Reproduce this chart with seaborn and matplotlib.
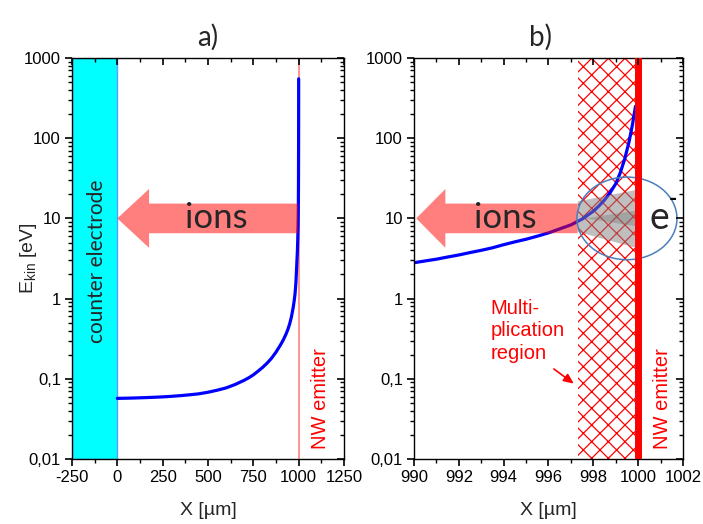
import matplotlib
matplotlib.use("Agg")
import matplotlib.pyplot as plt
import seaborn as sns
import numpy as np
from matplotlib.patches import Polygon, Ellipse
from matplotlib.ticker import FixedLocator, FixedFormatter, LogLocator, NullFormatter, MultipleLocator

# ---------------- data ----------------
# panel a: kinetic energy of ions vs position (full gap)
xa = [0, 50, 100, 150, 200, 250, 300, 350, 400, 450, 500, 550, 600, 650,
      700, 725, 750, 775, 800, 825, 850, 875, 900, 915, 930, 940, 950, 960,
      970, 975, 980, 985, 990, 993, 995, 997, 998, 999, 999.5, 999.8, 999.9,
      999.95, 999.98]
ea = [0.057, 0.0573, 0.0577, 0.0582, 0.0588, 0.0595, 0.0605, 0.0617, 0.0632,
      0.065, 0.068, 0.072, 0.077, 0.085, 0.096, 0.103, 0.112, 0.124, 0.138,
      0.156, 0.18, 0.215, 0.265, 0.305, 0.36, 0.41, 0.48, 0.59, 0.78, 0.93,
      1.15, 1.6, 2.8, 3.9, 5.5, 8.3, 12.3, 27, 70, 180, 260, 400, 550]
# panel b: zoom near the emitter
xb = [990, 990.5, 991, 991.5, 992, 992.5, 993, 993.5, 994, 994.5, 995, 995.5,
      996, 996.5, 997, 997.5, 998, 998.25, 998.5, 998.75, 999, 999.2, 999.4,
      999.6, 999.75, 999.88]
eb = [2.8, 2.95, 3.1, 3.3, 3.5, 3.75, 4.0, 4.3, 4.7, 5.1, 5.5, 6.0, 6.6, 7.4,
      8.3, 9.8, 12.3, 14.3, 17, 21, 27, 37, 55, 92, 150, 250]

ytick_vals = [0.01, 0.1, 1, 10, 100, 1000]
ytick_labels = ["0,01", "0,1", "1", "10", "100", "1000"]
xa_ticks = [-250, 0, 250, 500, 750, 1000, 1250]
xa_labels = ["-250", "0", "250", "500", "750", "1000", "1250"]
xb_ticks = [990, 992, 994, 996, 998, 1000, 1002]
xb_labels = ["990", "992", "994", "996", "998", "1000", "1002"]

electrode_span = (-250, 0)
emitter_x = 1000
mult_span = (997.3, 999.85)

# ---------------- style ----------------
sns.set_theme(style="ticks")
plt.rcParams["font.family"] = ["Liberation Sans", "DejaVu Sans"]
plt.rcParams["mathtext.default"] = "regular"
plt.rcParams["axes.unicode_minus"] = False
plt.rcParams["hatch.linewidth"] = 0.9
plt.rcParams["axes.linewidth"] = 1.0
plt.rcParams["axes.edgecolor"] = "black"
for a in ("xtick", "ytick"):
    plt.rcParams[f"{a}.color"] = "black"
    plt.rcParams[f"{a}.major.size"] = 5
    plt.rcParams[f"{a}.minor.size"] = 3
    plt.rcParams[f"{a}.major.width"] = 1.2
    plt.rcParams[f"{a}.minor.width"] = 1.0
    plt.rcParams[f"{a}.labelsize"] = 12
plt.rcParams["xtick.minor.visible"] = True
plt.rcParams["ytick.minor.visible"] = True

CAL = ["Lato", "DejaVu Sans"]
ARIAL = ["Liberation Sans", "DejaVu Sans"]

fig = plt.figure(figsize=(7.03, 5.24), dpi=100)
W, H = 703, 524
ax_a = fig.add_axes([72 / W, (H - 459) / H, (344 - 72) / W, (459 - 58) / H])
ax_b = fig.add_axes([414 / W, (H - 459) / H, (683 - 414) / W, (459 - 58) / H])


def set_locators(ax, xticks, xminor):
    ax.set_yscale("log")
    ax.xaxis.set_major_locator(FixedLocator(xticks))
    ax.xaxis.set_minor_locator(MultipleLocator(xminor))
    ax.yaxis.set_major_locator(FixedLocator(ytick_vals))
    ax.yaxis.set_minor_locator(LogLocator(base=10, subs=np.arange(2, 10)))
    ax.yaxis.set_minor_formatter(NullFormatter())


def style_axis(ax, xlim, xticks, xlabels, xminor):
    set_locators(ax, xticks, xminor)
    ax.set_xlim(*xlim)
    ax.set_ylim(0.01, 1000)
    ax.xaxis.set_major_formatter(FixedFormatter(xlabels))
    ax.yaxis.set_major_formatter(FixedFormatter(ytick_labels))
    ax.tick_params(axis="both", which="both", direction="out",
                   top=False, right=False, bottom=True, left=True)
    ax.tick_params(axis="both", which="major", pad=3)
    # mirrored inward ticks on top and right via an overlay axes
    tw = fig.add_axes(ax.get_position(), frameon=False)
    set_locators(tw, xticks, xminor)
    tw.set_xlim(*xlim)
    tw.set_ylim(0.01, 1000)
    tw.tick_params(axis="both", which="both", direction="in",
                   top=True, right=True, bottom=False, left=False,
                   labeltop=False, labelright=False,
                   labelbottom=False, labelleft=False)
    tw.set_zorder(10)
    tw.patch.set_visible(False)
    ax.set_xlabel("X [µm]", fontsize=14, family=ARIAL)
    ax.xaxis.set_label_coords(0.5, -0.106)


def arrow(ax, tip, head_base, tail, yc=10.0, body=0.185, head=0.367):
    ly = np.log10(yc)
    pts = [(tip, yc),
           (head_base, 10 ** (ly + head)),
           (head_base, 10 ** (ly + body)),
           (tail, 10 ** (ly + body)),
           (tail, 10 ** (ly - body)),
           (head_base, 10 ** (ly - body)),
           (head_base, 10 ** (ly - head))]
    ax.add_patch(Polygon(pts, closed=True, facecolor="red", alpha=0.5,
                         edgecolor="none", zorder=3))


# ---------------- panel a ----------------
ax = ax_a
style_axis(ax, (-250, 1250), xa_ticks, xa_labels, 125)
ax.axvspan(*electrode_span, facecolor="#00FFFF", edgecolor="#5AA0FF",
           linewidth=1, zorder=1)
ax.axvline(emitter_x, color="#FF8080", lw=1.2, zorder=2)
sns.lineplot(x=xa, y=ea, ax=ax, color="#0000FF", lw=2.3, sort=True,
             estimator=None, zorder=2.5)
arrow(ax, 0, 175, 997)
ax.text(545, 10, "ions", fontsize=25, family=CAL, ha="center", va="center",
        zorder=4)
ax.text(-110, 2.9, "counter electrode", fontsize=15, family=CAL, rotation=90,
        ha="center", va="center", zorder=4)
ax.text(1118, 0.057, "NW emitter", fontsize=14.5, family=ARIAL, color="red",
        rotation=90, ha="center", va="center")
ax.set_ylabel("E$_{kin}$ [eV]", fontsize=14, family=ARIAL)
ax.yaxis.set_label_coords(-0.122, 0.5)
ax.set_title("a)", fontsize=20, family=CAL, pad=9)

# ---------------- panel b ----------------
ax = ax_b
style_axis(ax, (990, 1002), xb_ticks, xb_labels, 1)
ax.axvspan(*mult_span, facecolor="none", edgecolor="red", hatch="xx",
           linewidth=0, zorder=1)
sns.lineplot(x=xb, y=eb, ax=ax, color="#0000FF", lw=2.3, sort=True,
             estimator=None, zorder=2.5)
arrow(ax, 990.1, 991.4, 997.3)
# electron avalanche cone
ax.add_patch(Polygon([(997.3, 16.3), (999.9, 22.6), (999.9, 4.3), (997.3, 6.8)],
                     closed=True, facecolor="#808080", alpha=0.5,
                     edgecolor="none", zorder=4))
ax.add_patch(Polygon([(997.6, 10.0), (999.9, 12.5), (999.9, 8.0)],
                     closed=True, facecolor="#707070", alpha=0.35,
                     edgecolor="none", zorder=4))
ax.axvline(emitter_x, color="red", lw=5, zorder=6)
# ellipse around the emitter tip (drawn in axes coordinates)
cx = (999.5 - 990) / 12
cy = (np.log10(10) + 2) / 5
ax.add_patch(Ellipse((cx, cy), 100 / 269, 82.6 / 401, transform=ax.transAxes,
                     facecolor="none", edgecolor="#4A7EBB", lw=1.1, zorder=5))
ax.text(994.06, 10, "ions", fontsize=25, family=CAL, ha="center", va="center",
        zorder=4)
ax.text(1000.95, 10, "e", fontsize=27, family=CAL, ha="center",
        va="center", zorder=7)
ax.text(1001.57, 17, "-", fontsize=16, fontweight="bold", family=CAL,
        color="black", ha="center", va="center", zorder=7)
ax.text(1001.08, 0.057, "NW emitter", fontsize=14.5, family=ARIAL, color="red",
        rotation=90, ha="center", va="center", zorder=7)
ax.text(993.4, 1.0, "Multi-\nplication\nregion", fontsize=14.5, family=ARIAL,
        color="red", ha="left", va="top", linespacing=1.25)
ax.annotate("", xy=(997.23, 0.083), xytext=(996.14, 0.139),
            arrowprops=dict(arrowstyle="-|>,head_length=0.5,head_width=0.22",
                            color="red", lw=1.2))
ax.set_ylabel("")
ax.set_title("b)", fontsize=20, family=CAL, pad=9, x=0.47)

fig.savefig("out.png", dpi=100)
